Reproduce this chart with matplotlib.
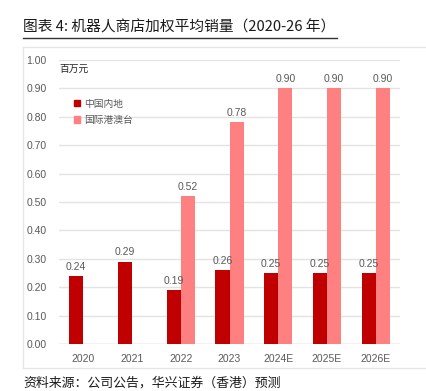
import numpy as np
import matplotlib
matplotlib.use("Agg")
import matplotlib.pyplot as plt
from matplotlib.lines import Line2D
from matplotlib.patches import Patch

plt.rcParams['font.family'] = ['Liberation Sans', 'Noto Sans CJK SC', 'DejaVu Sans']
cjk = ['Noto Sans CJK SC', 'DejaVu Sans']

############################################
# data
years = ['2020', '2021', '2022', '2023', '2024E', '2025E', '2026E']
mainland = [0.24, 0.29, 0.19, 0.26, 0.25, 0.25, 0.25]
intl = [np.nan, np.nan, 0.52, 0.78, 0.90, 0.90, 0.90]
yticks = [0.0, 0.1, 0.2, 0.3, 0.4, 0.5, 0.6, 0.7, 0.8, 0.9, 1.0]

red = '#C00000'
pink = '#FF8080'
gray = '#595959'

#############################################
## Plotting
fig = plt.figure(figsize=(4.27, 3.91), dpi=100)
ax = fig.add_axes([0.138, 0.1202, 0.799, 0.7263])

x = np.arange(len(years))
w = 0.29
ax.bar(x - w / 2, mainland, w, color=red, zorder=3)
ax.bar(x + w / 2, intl, w, color=pink, zorder=3)

for i, v in enumerate(mainland):
    ax.text(x[i] - w / 2, v + 0.015, f'{v:.2f}', ha='center', va='bottom',
            fontsize=7.5, color=gray, zorder=4)
for i, v in enumerate(intl):
    if not np.isnan(v):
        ax.text(x[i] + w / 2, v + 0.015, f'{v:.2f}', ha='center', va='bottom',
                fontsize=7.5, color=gray, zorder=4)

ax.set_ylim(0, 1.0)
ax.set_xlim(-0.5, len(years) - 0.5)
ax.set_yticks(yticks)
ax.set_yticklabels([f'{t:.2f}' for t in yticks], fontsize=7.5, color=gray)
ax.set_xticks(x)
ax.set_xticklabels(years, fontsize=7.5, color=gray)
ax.tick_params(length=0, pad=7)
ax.tick_params(axis='y', pad=9)
ax.grid(axis='y', color='#E3E3E3', linewidth=1, zorder=0)
for s in ax.spines.values():
    s.set_visible(False)
ax.axhline(0, color='#D9D9D9', linewidth=1, zorder=2)

ax.text(0.0, 0.95, '百万元', transform=ax.transAxes, fontsize=7,
        family=cjk, color='#262626', ha='left', va='bottom')

handles = [Patch(color=red), Patch(color=pink)]
leg = ax.legend(handles, ['中国内地', '国际港澳台'], loc='upper left',
                bbox_to_anchor=(0.02, 0.895), frameon=False,
                prop={'family': cjk, 'size': 7},
                handlelength=0.6, handleheight=0.6, handletextpad=0.4,
                labelspacing=0.65, labelcolor=gray)

# title and frame
fig.text(23 / 427, 1 - 27 / 391, '图表 4: 机器人商店加权平均销量（2020-26 年）',
         fontsize=10.6, fontweight='medium', family=cjk, color='#1a1a1a',
         va='center', ha='left')
fig.add_artist(Line2D([23 / 427, 337 / 427], [1 - 37.5 / 391] * 2,
                      color='#333333', linewidth=1))
frame_c = '#E6E6E6'
fig.add_artist(Line2D([23 / 427, 1], [1 - 47 / 391] * 2, color=frame_c, linewidth=1))
fig.add_artist(Line2D([23 / 427, 1], [1 - 368 / 391] * 2, color=frame_c, linewidth=1))
fig.add_artist(Line2D([23 / 427] * 2, [1 - 47 / 391, 1 - 368 / 391], color=frame_c, linewidth=1))

fig.text(23 / 427, 1 - 383 / 391, '资料来源：公司公告，华兴证券（香港）预测',
         fontsize=9.3, family=cjk, color='#1a1a1a', va='center', ha='left')

fig.savefig('out.png', dpi=100)
